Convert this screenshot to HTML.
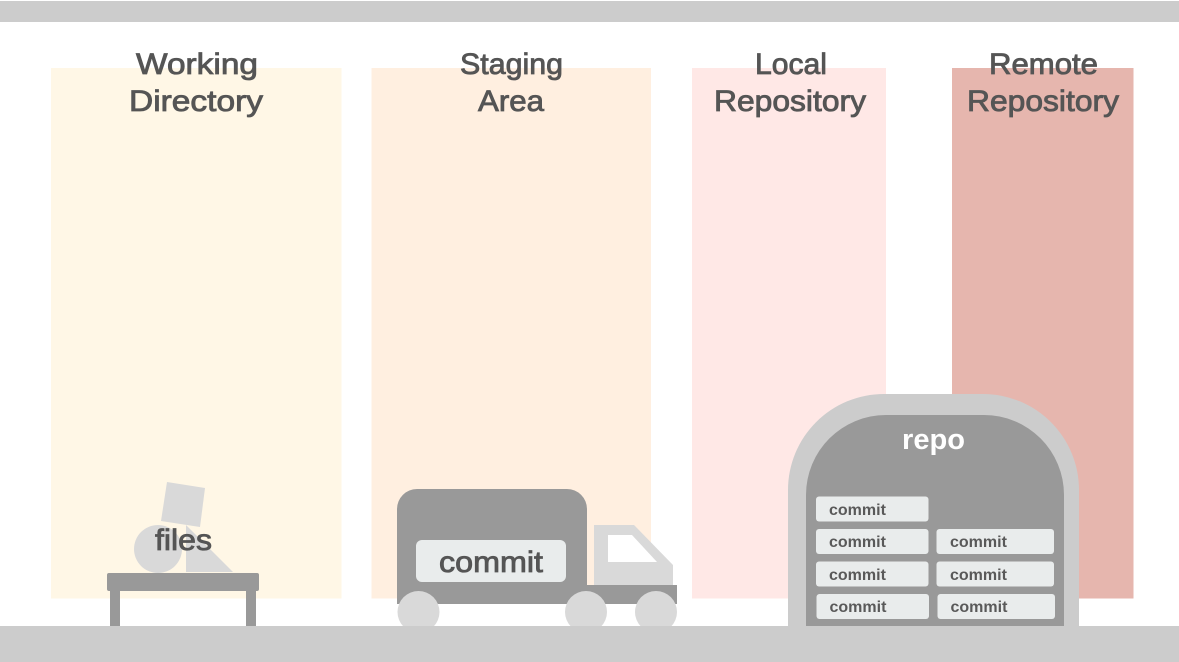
<!DOCTYPE html>
<html><head><meta charset="utf-8"><style>
html,body{margin:0;padding:0;background:#fff}
svg{display:block}
text{font-family:"Liberation Sans",sans-serif}
.h{font-size:30px;fill:#555;stroke:#555;stroke-width:.85px}
.c{font-size:16px;font-weight:bold;fill:#595959}
</style></head><body>
<svg xmlns="http://www.w3.org/2000/svg" width="1179" height="662" viewBox="0 0 1179 662">
<rect width="1179" height="662" fill="#fff"/>
<rect x="0" y="1" width="1179" height="21" fill="#ccc"/>
<rect x="51" y="68" width="290.500" height="530.500" fill="#fff7e6"/>
<rect x="371.500" y="68" width="279.500" height="530.500" fill="#ffefe0"/>
<rect x="692" y="68" width="194" height="530.500" fill="#ffe8e6"/>
<rect x="952" y="68" width="181.500" height="530.500" fill="#e6b6ae"/>
<text class="h" x="136" y="74" textLength="122" lengthAdjust="spacingAndGlyphs">Working</text>
<text class="h" x="129" y="111" textLength="134" lengthAdjust="spacingAndGlyphs">Directory</text>
<text class="h" x="460" y="74" textLength="103" lengthAdjust="spacingAndGlyphs">Staging</text>
<text class="h" x="478" y="111" textLength="66" lengthAdjust="spacingAndGlyphs">Area</text>
<text class="h" x="755" y="74" textLength="72" lengthAdjust="spacingAndGlyphs">Local</text>
<text class="h" x="714" y="111" textLength="152" lengthAdjust="spacingAndGlyphs">Repository</text>
<text class="h" x="989" y="74" textLength="109" lengthAdjust="spacingAndGlyphs">Remote</text>
<text class="h" x="967" y="111" textLength="152" lengthAdjust="spacingAndGlyphs">Repository</text>
<polygon points="167,482 205,488 200,527 161,521" fill="#d9d9d9"/>
<circle cx="158" cy="549" r="24" fill="#d9d9d9"/>
<polygon points="186,525 186,572 233,572" fill="#d9d9d9"/>
<rect x="110" y="585" width="10" height="41" fill="#999"/>
<rect x="246" y="585" width="10" height="41" fill="#999"/>
<rect x="107" y="573" width="152" height="18" rx="2" fill="#999"/>
<text class="h" x="155" y="550" textLength="57" lengthAdjust="spacingAndGlyphs">files</text>
<path d="M397 604V509a20 20 0 0 1 20-20h150a20 20 0 0 1 20 20v76h90v19z" fill="#999"/>
<polygon points="594,525 634,525 673,565 673,585 594,585" fill="#d9d9d9"/>
<polygon points="608,535 632,535 657,562 608,562" fill="#fff"/>
<circle cx="418.500" cy="612" r="21" fill="#d9d9d9"/>
<circle cx="586" cy="612" r="21" fill="#d9d9d9"/>
<circle cx="656" cy="612" r="21" fill="#d9d9d9"/>
<rect x="416" y="540" width="150" height="42" rx="6" fill="#e9ecec"/>
<text class="h" x="439" y="572" textLength="104" lengthAdjust="spacingAndGlyphs">commit</text>
<path d="M788 630V490a96 96 0 0 1 96-96h99a96 96 0 0 1 96 96v140z" fill="#ccc"/>
<path d="M806 630V495a80 80 0 0 1 80-80h98a80 80 0 0 1 80 80v135z" fill="#999"/>
<rect x="0" y="626" width="1179" height="36" fill="#ccc"/>
<text x="902" y="449" font-size="29" font-weight="bold" fill="#fff" textLength="63" lengthAdjust="spacingAndGlyphs">repo</text>
<g fill="#e9ecec">
<rect x="816" y="496.500" width="112.500" height="25" rx="3"/>
<rect x="816" y="529" width="112.500" height="25" rx="3"/>
<rect x="816" y="561.500" width="112.500" height="25" rx="3"/>
<rect x="816.500" y="594" width="112.500" height="25" rx="3"/>
<rect x="936.500" y="529" width="117.500" height="25" rx="3"/>
<rect x="936.500" y="561.500" width="117.500" height="25" rx="3"/>
<rect x="937.500" y="594" width="117.500" height="25" rx="3"/>
</g>
<text class="c" x="829" y="515">commit</text>
<text class="c" x="829" y="547">commit</text>
<text class="c" x="829" y="580">commit</text>
<text class="c" x="829.500" y="612">commit</text>
<text class="c" x="950" y="547">commit</text>
<text class="c" x="950" y="580">commit</text>
<text class="c" x="950.500" y="612">commit</text>
</svg>
</body></html>
